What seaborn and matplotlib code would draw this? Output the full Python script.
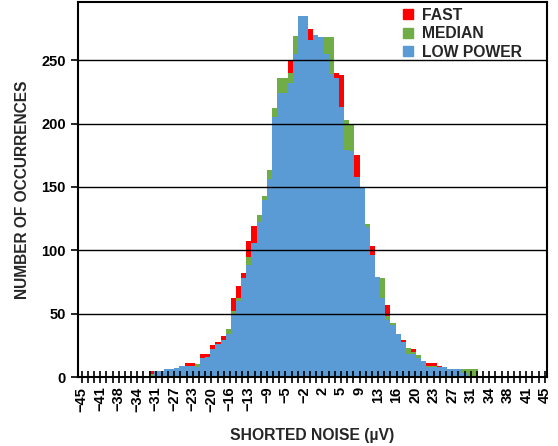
import numpy as np
import pandas as pd
import matplotlib
matplotlib.use('Agg')
import matplotlib.pyplot as plt
from matplotlib.lines import Line2D
import seaborn as sns

# counts per 1 uV bin, first bin starts at -33 uV
bin_start = -33
fast = [0, 5, 4, 5, 6, 6, 7, 8, 11, 11, 9, 18, 18, 25, 28, 32, 36, 62, 72, 82,
        107, 119, 121, 139, 156, 205, 228, 230, 250, 260, 270, 275, 275, 268, 266, 255, 240, 240,
        238, 195, 178, 175, 148, 110, 103, 77, 62, 57, 40, 31, 29, 20, 22, 14, 12, 11,
        11, 9, 7, 5, 4, 4, 3, 2, 1, 0]
median = [0, 2, 4, 5, 5, 6, 6, 8, 9, 9, 10, 14, 15, 21, 25, 28, 38, 52, 62, 76,
          95, 106, 128, 143, 163, 212, 236, 236, 240, 269, 270, 275, 264, 268, 266, 268, 268, 234,
          210, 203, 199, 155, 147, 121, 95, 77, 78, 48, 43, 33, 27, 23, 20, 17, 12, 9,
          9, 8, 7, 6, 5, 6, 6, 6, 6, 0]
low_power = [0, 1, 5, 5, 6, 6, 7, 9, 9, 9, 8, 15, 16, 22, 26, 29, 34, 50, 60, 78,
             88, 106, 122, 140, 156, 205, 224, 224, 232, 255, 285, 285, 266, 270, 268, 255, 239, 236,
             213, 179, 178, 158, 150, 118, 96, 79, 62, 45, 41, 34, 28, 18, 18, 15, 13, 8,
             8, 8, 8, 6, 6, 6, 3, 1, 0, 0]

series_names = ['FAST', 'MEDIAN', 'LOW POWER']
colors = ['#FF0000', '#70AD47', '#5B9BD5']

tick_labels = ['−45', '−41', '−38', '−34', '−31', '−27', '−23', '−20', '−16', '−13',
               '−9', '−5', '−2', '2', '5', '9', '13', '16', '20', '23', '27', '31',
               '34', '38', '41', '45']

edges = [bin_start + i for i in range(len(fast) + 1)]
centers = [e + 0.5 for e in edges[:-1]]

sns.set_style('white')
plt.rcParams['font.family'] = ['Liberation Sans', 'DejaVu Sans']

fig = plt.figure(figsize=(5.58, 4.46), dpi=100)
ax = fig.add_axes([0.139, 0.1547, 0.841, 0.841])

for name, vals, c in zip(series_names, [fast, median, low_power], colors):
    df = pd.DataFrame({'noise': centers, 'count': vals})
    sns.histplot(data=df, x='noise', weights='count', bins=edges, element='step',
                 fill=True, color=c, alpha=1, linewidth=0, ax=ax)

ax.set_xlim(-45.8, 45.4)
ax.set_ylim(0, 296)

tick_pos = -45 + 3.6 * np.arange(len(tick_labels))
ax.set_xticks(tick_pos)
ax.set_xticklabels(tick_labels, rotation=90, fontweight='bold', fontsize=10.5)
ax.set_xticks(-45 + 1.2 * np.arange(76), minor=True)
ax.set_yticks([0, 50, 100, 150, 200, 250])
ax.set_yticklabels(['0', '50', '100', '150', '200', '250'], fontweight='bold', fontsize=10.5)

ax.tick_params(axis='x', which='both', direction='inout', length=8, width=1.2,
               colors='black', bottom=True, pad=3)
ax.tick_params(axis='y', direction='out', length=5, width=1.2, colors='black', left=True)

ax.set_axisbelow(False)
ax.yaxis.grid(True, color='black', linewidth=1)
ax.xaxis.grid(False)
for s in ax.spines.values():
    s.set_visible(True)
    s.set_color('black')
    s.set_linewidth(1.5)

ax.set_xlabel('SHORTED NOISE (µV)', fontweight='bold', fontsize=11.3, labelpad=12)
ax.set_ylabel('NUMBER OF OCCURRENCES', fontweight='bold', fontsize=11.2, labelpad=8)

handles = [Line2D([], [], marker='s', linestyle='none', markersize=7,
                  markerfacecolor=c, markeredgecolor=c) for c in colors]
ax.legend(handles, series_names, loc='upper left', bbox_to_anchor=(0.66, 1.022),
          frameon=False, handlelength=0.8, handletextpad=0.5, labelspacing=0.22,
          prop={'weight': 'bold', 'size': 11.3})

fig.savefig('out.png', dpi=100)
